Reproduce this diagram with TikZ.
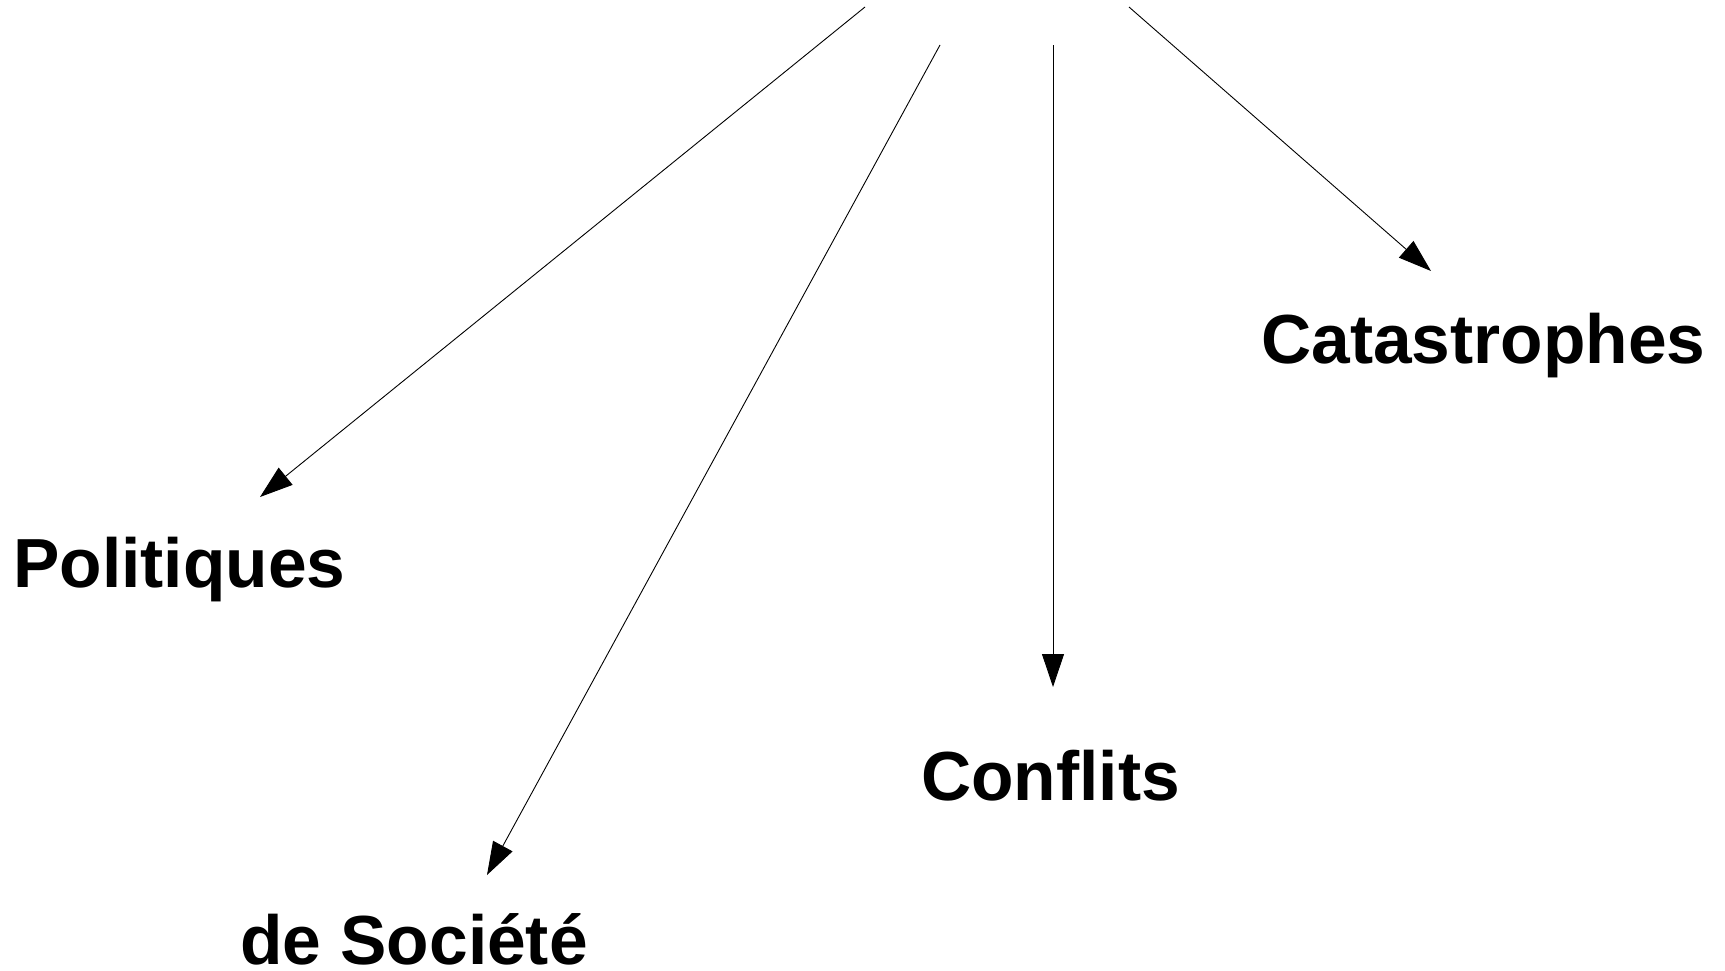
\documentclass[tikz,border=0pt]{standalone}
\usepackage{fontspec}
\setmainfont{Liberation Sans}
\usetikzlibrary{arrows.meta}

\begin{document}
\begin{tikzpicture}[x=1pt, y=-1pt,
    topic/.style={anchor=base west, inner sep=0pt,
      font=\bfseries\fontsize{69.5}{80}\selectfont},
    link/.style={-{Triangle[length=33pt, width=22pt]}, line width=0.9pt}]
  \useasboundingbox (0,0) rectangle (1725,970);
  % labels
  \node[topic] (politiques) at (13,587) {Politiques};
  \node[topic] (societe) at (240,964) {de Soci\'et\'e};
  \node[topic] (conflits) at (921,800) {Conflits};
  \node[topic] (catastrophes) at (1261,363) {Catastrophes};
  % arrow ends
  \coordinate (from-pol) at (865,7);
  \coordinate (from-soc) at (940,45);
  \coordinate (from-con) at (1053,45);
  \coordinate (from-cat) at (1129,7);
  \coordinate (to-pol) at (260,497);
  \coordinate (to-soc) at (487,875);
  \coordinate (to-con) at (1053,687);
  \coordinate (to-cat) at (1431,271);
  % arrows
  \foreach \a in {pol, soc, con, cat} {
    \draw[link] (from-\a) -- (to-\a);
  }
\end{tikzpicture}
\end{document}
